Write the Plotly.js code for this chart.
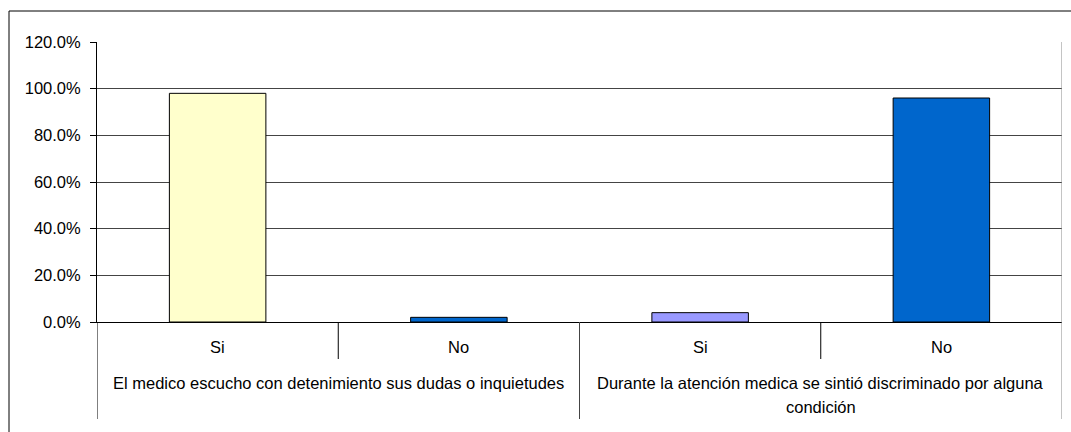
<!DOCTYPE html>
<html>
<head>
<meta charset="utf-8">
<script src="https://cdn.plot.ly/plotly-3.0.1.min.js"></script>
<style>html,body{margin:0;padding:0;background:#fff;}</style>
</head>
<body>
<div id="chart" style="width:1071px;height:432px;"></div>
<script>
const categories = ["Si", "No", "Si", "No"];
const values = [0.98, 0.02, 0.04, 0.96];
const barColors = ["#FFFFCC", "#0066CC", "#9999FF", "#0066CC"];
const groups = [
  "El medico escucho con detenimiento sus dudas o inquietudes",
  "Durante la atención medica se sintió discriminado por alguna<br>condición"
];
const groupCenters = [0.5, 2.5];
const yTicks = [0, 0.2, 0.4, 0.6, 0.8, 1.0, 1.2];

const W = 1071, H = 432;
const M = {l: 97, r: 9, t: 42, b: 110};
const pw = W - M.l - M.r, ph = H - M.t - M.b;
const px2x = p => (p - M.l) / pw;
const py2y = p => (H - M.b - p) / ph;
const FONT = 'Liberation Sans, Arial, sans-serif';
const FS = 16.5;

const xs = categories.map((c, i) => i);

const trace = {
  type: 'bar',
  x: xs,
  y: values,
  width: 0.4,
  marker: {color: barColors, line: {color: '#000000', width: 1}},
  hoverinfo: 'skip'
};

const shapes = [];
// outer frame
shapes.push({type: 'rect', xref: 'paper', yref: 'paper',
  x0: px2x(9), x1: px2x(1090), y0: py2y(11), y1: py2y(450),
  line: {color: '#000', width: 1}, layer: 'below'});
// separators
const sepX = [-0.5, 0.5, 1.5, 2.5, 3.5];
const sepBottom = [419, 359, 419, 359, 419];
const sepColor = ['#000', '#000', '#444', '#000', '#888'];
sepX.forEach((sx, i) => {
  shapes.push({type: 'line', xref: 'x', yref: 'paper', x0: sx, x1: sx,
    y0: 0, y1: py2y(sepBottom[i]), line: {color: sepColor[i], width: 1}});
});
// right border of plot area
shapes.push({type: 'line', xref: 'x', yref: 'paper', x0: 3.5, x1: 3.5,
  y0: 0, y1: 1, line: {color: '#888', width: 1}});

const annotations = [];
groups.forEach((g, i) => {
  g.split('<br>').forEach((line, j) => {
    annotations.push({x: groupCenters[i], xref: 'x', yref: 'paper',
      y: py2y(383 + 24 * j), yanchor: 'middle', text: line, showarrow: false,
      font: {family: FONT, size: FS, color: '#000'}});
  });
});
categories.forEach((c, i) => {
  annotations.push({x: xs[i], xref: 'x', yref: 'paper',
    y: py2y(347), yanchor: 'middle', text: c, showarrow: false,
    font: {family: FONT, size: FS, color: '#000'}});
});

const layout = {
  width: W, height: H,
  margin: M,
  paper_bgcolor: '#fff', plot_bgcolor: '#fff',
  showlegend: false,
  bargap: 0.6,
  font: {family: FONT, size: FS, color: '#000'},
  xaxis: {
    range: [-0.5, 3.5], tickvals: xs, showticklabels: false,
    showgrid: false, zeroline: false, showline: true, linecolor: '#000', linewidth: 1,
    ticks: '', fixedrange: true
  },
  yaxis: {
    range: [0, 1.2], tickvals: yTicks, tickformat: '.1%',
    showgrid: true, gridcolor: '#444', gridwidth: 1,
    zeroline: false, showline: true, linecolor: '#000', linewidth: 1,
    ticks: 'outside', ticklen: 6, tickcolor: '#000', ticklabelstandoff: 6,
    tickfont: {family: FONT, size: FS, color: '#000'},
    fixedrange: true
  },
  shapes: shapes,
  annotations: annotations
};

Plotly.newPlot('chart', [trace], layout, {displayModeBar: false, staticPlot: true});
</script>
</body>
</html>
